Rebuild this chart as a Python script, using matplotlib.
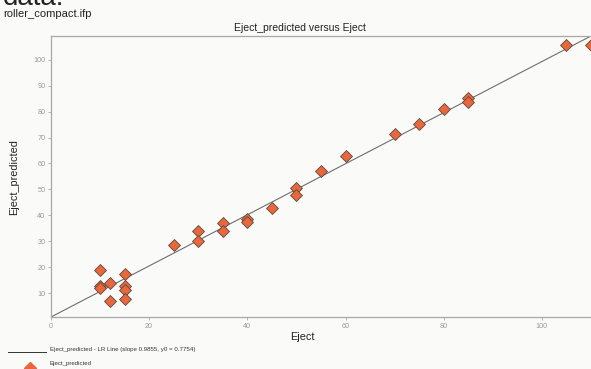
import matplotlib
matplotlib.use("Agg")
import matplotlib.pyplot as plt
from matplotlib.lines import Line2D

plt.rcParams['font.family'] = ['Liberation Sans', 'DejaVu Sans']

eject = [10, 10, 10, 12, 12, 15, 15, 15, 15, 25, 30, 30, 35, 35,
         40, 40, 45, 50, 50, 55, 60, 70, 75, 80, 85, 85, 105, 110]
eject_pred = [19.0, 12.7, 12.0, 13.8, 7.0, 17.2, 12.7, 11.1, 7.9, 28.4, 34.1, 30.1, 36.9, 34.1,
              38.7, 37.3, 43.0, 50.6, 47.8, 57.1, 62.9, 71.3, 75.4, 81.2, 85.1, 83.8, 105.7, 105.7]
slope = 0.9855
y0 = 0.7754
x_ticks = [0, 20, 40, 60, 80, 100]
y_ticks = [10, 20, 30, 40, 50, 60, 70, 80, 90, 100]
x_range = [0, 110]

W, H = 591, 369
bg = '#FAFAF8'
fig = plt.figure(figsize=(W / 100, H / 100), dpi=100, facecolor=bg)
ax = fig.add_axes([51 / W, 1 - 317 / H, (W - 51) / W, (317 - 36) / H])
ax.set_facecolor(bg)

line_y = [y0 + slope * v for v in x_range]
ax.plot(x_range, line_y, color='#6E6E6E', lw=0.8, zorder=2)
ax.plot(eject, eject_pred, linestyle='none', marker='D', markersize=6.3,
        markerfacecolor='#E8673C', markeredgecolor='#5A4A40', markeredgewidth=0.6,
        zorder=3, clip_on=False)

ax.set_xlim(x_range[0], x_range[1])
ax.set_ylim(line_y[0], line_y[1])
ax.set_xticks(x_ticks)
ax.set_yticks(y_ticks)
ax.tick_params(colors='#AAAAAA', labelcolor='#999999', labelsize=5.2, length=2.5, width=0.6, pad=1.5)
for s in ['left', 'top', 'bottom']:
    ax.spines[s].set_color('#A8A8A8')
    ax.spines[s].set_linewidth(0.9)
ax.spines['right'].set_visible(False)

fig.text(3 / W, 1 - 5 / H, 'data:', fontsize=20, color='#222222', va='baseline', ha='left')
fig.text(3 / W, 1 - 14 / H, 'roller_compact.ifp', fontsize=8, color='#222222', va='center', ha='left')
fig.text(300 / W, 1 - 28 / H, 'Eject_predicted versus Eject', fontsize=7.5, color='#222222', va='center', ha='center')
fig.text(302 / W, 1 - 337 / H, 'Eject', fontsize=7.8, color='#222222', va='center', ha='center')
fig.text(14 / W, 1 - 177 / H, 'Eject_predicted', fontsize=7.8, color='#222222', va='center', ha='center', rotation=90)

# legend
fig.add_artist(Line2D([8 / W, 46 / W], [1 - 352 / H, 1 - 352 / H], color='#333333', lw=0.7))
fig.text(50 / W, 1 - 350 / H, 'Eject_predicted - LR Line (slope 0.9855, y0 = 0.7754)', fontsize=4.4,
         color='#333333', va='center', ha='left')
fig.add_artist(Line2D([30 / W], [1 - 368 / H], marker='D', markersize=6.3, linestyle='none',
                      markerfacecolor='#E8673C', markeredgecolor='#E8673C'))
fig.text(50 / W, 1 - 363 / H, 'Eject_predicted', fontsize=4.4, color='#333333', va='center', ha='left')

fig.savefig('out.png', dpi=100, facecolor=bg)
